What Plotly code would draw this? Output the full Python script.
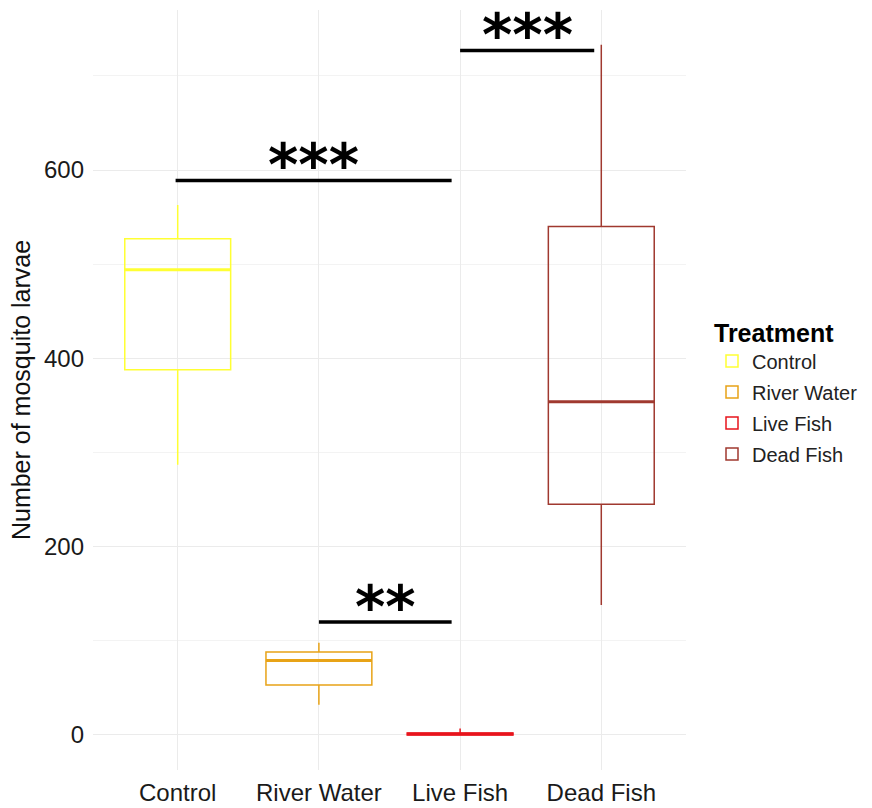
import plotly.graph_objects as go

treatments = ["Control", "River Water", "Live Fish", "Dead Fish"]
colors = ["#FFFF33", "#E8A317", "#E8141C", "#A0392F"]
lower_whisker = [287, 32, 0, 138]
q1 = [388, 53, 0, 245]
median = [494, 79, 1, 354]
q3 = [527, 88, 2, 540]
upper_whisker = [563, 98, 7, 733]

sig_x0 = [-0.015, 1.0, 2.0]
sig_x1 = [1.94, 1.94, 2.95]
sig_y = [589, 120, 727]
sig_label = ["***", "**", "***"]

box_width = 0.75

fig = go.Figure()
for i, t in enumerate(treatments):
    fig.add_trace(go.Box(
        x=[t], q1=[q1[i]], median=[median[i]], q3=[q3[i]],
        lowerfence=[lower_whisker[i]], upperfence=[upper_whisker[i]],
        name=t, legendgroup=t, marker_color=colors[i],
        line=dict(color=colors[i], width=1.5),
        fillcolor="rgba(255,255,255,0)", width=box_width, whiskerwidth=0,
        boxpoints=False, hoverinfo="skip",
    ))
    # thicker median line, as in ggplot
    fig.add_shape(type="line", xref="x", yref="y",
                  x0=i - box_width / 2, x1=i + box_width / 2,
                  y0=median[i], y1=median[i],
                  line=dict(color=colors[i], width=3))

for x0, x1, y, lab in zip(sig_x0, sig_x1, sig_y, sig_label):
    fig.add_shape(type="line", xref="x", yref="y", x0=x0, x1=x1, y0=y, y1=y,
                  line=dict(color="black", width=3.5))
    fig.add_annotation(x=(x0 + x1) / 2, y=y, xref="x", yref="y", text="<b>" + lab + "</b>",
                       showarrow=False, yanchor="bottom", yshift=-21,
                       font=dict(family="DejaVu Sans", size=58, color="black"))

plot_left, plot_right, fig_w = 93, 686, 872
margin_r = 10
paper_w = fig_w - plot_left - margin_r

fig.update_layout(
    width=872, height=808,
    margin=dict(l=plot_left, r=margin_r, t=10, b=38, autoexpand=False),
    plot_bgcolor="white", paper_bgcolor="white",
    boxmode="overlay",
    font=dict(family="Liberation Sans", color="#1a1a1a"),
    legend=dict(
        title=dict(text="<b>Treatment</b>", font=dict(size=25, color="black")),
        font=dict(size=20, color="#222"),
        x=(712 - plot_left) / paper_w, xanchor="left", y=0.498, yanchor="middle",
        tracegroupgap=2, itemwidth=30,
    ),
)
fig.update_xaxes(
    domain=[0, (plot_right - plot_left) / paper_w], automargin=False,
    type="category", categoryorder="array", categoryarray=treatments,
    range=[-0.6, 3.6], showgrid=True, gridcolor="#EBEBEB", gridwidth=1.2,
    zeroline=False, showline=False, ticks="", ticklabelstandoff=6,
    tickfont=dict(size=24, color="#1a1a1a"),
)
fig.update_yaxes(
    automargin=False,
    range=[-37.2, 770], tickvals=[0, 200, 400, 600],
    showgrid=True, gridcolor="#EBEBEB", gridwidth=1.2,
    minor=dict(tickvals=[100, 300, 500, 700], showgrid=True, gridcolor="#F3F3F3", gridwidth=0.8),
    zeroline=False, showline=False, ticks="", ticklabelstandoff=8,
    tickfont=dict(size=24, color="#1a1a1a"),
    title=dict(text="Number of mosquito larvae", font=dict(size=25, color="#111"), standoff=6),
)

fig.write_html("out.html")
